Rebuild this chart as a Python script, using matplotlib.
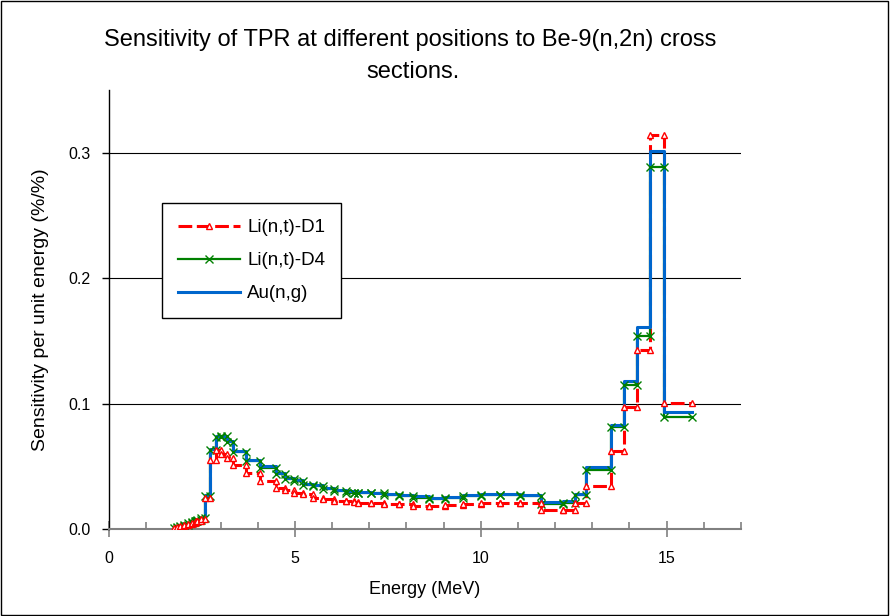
#/usr/bin/python3

import numpy as np
import matplotlib
matplotlib.use("Agg")
import matplotlib.pyplot as plt
from matplotlib.lines import Line2D
from matplotlib.patches import Rectangle

plt.rcParams['font.family'] = ['Liberation Sans', 'DejaVu Sans']

# group boundaries (MeV), low edge of each group plus the last upper edge
edges = [1.7377, 1.8268, 1.9205, 2.0190, 2.1225, 2.2313, 2.3069, 2.3457,
         2.3653, 2.4660, 2.5924, 2.7253, 2.8651, 3.0119, 3.1664, 3.3287,
         3.6788, 4.0657, 4.4933, 4.7237, 4.9659, 5.2205, 5.4881, 5.7695,
         6.0653, 6.3763, 6.5924, 6.7032, 7.0469, 7.4082, 7.7880, 8.1873,
         8.6071, 9.0484, 9.5123, 10.000, 10.513, 11.052, 11.618, 12.214,
         12.523, 12.840, 13.499, 13.840, 14.191, 14.550, 14.918, 15.683]

li_d1 = [0.0004, 0.0013, 0.0022, 0.0032, 0.0042, 0.0050, 0.0055, 0.0060,
         0.0065, 0.0080, 0.025, 0.055, 0.063, 0.060, 0.057, 0.051,
         0.045, 0.038, 0.033, 0.031, 0.029, 0.028, 0.025, 0.024,
         0.0225, 0.022, 0.0217, 0.021, 0.0208, 0.020, 0.020, 0.0184,
         0.0184, 0.019, 0.020, 0.021, 0.021, 0.021, 0.015, 0.015,
         0.021, 0.034, 0.062, 0.097, 0.143, 0.314, 0.1006]

li_d4 = [0.0005, 0.0015, 0.0025, 0.0035, 0.0045, 0.0055, 0.0060, 0.0065,
         0.0070, 0.0088, 0.026, 0.063, 0.0735, 0.074, 0.069, 0.061,
         0.054, 0.049, 0.044, 0.040, 0.038, 0.035, 0.034, 0.032,
         0.030, 0.029, 0.029, 0.0288, 0.0285, 0.027, 0.026, 0.025,
         0.024, 0.0245, 0.026, 0.027, 0.027, 0.026, 0.020, 0.021,
         0.027, 0.047, 0.081, 0.115, 0.154, 0.289, 0.0896]

au_ng = [0.0005, 0.0015, 0.0025, 0.0036, 0.0046, 0.0056, 0.0061, 0.0066,
         0.0072, 0.0090, 0.027, 0.064, 0.074, 0.0745, 0.070, 0.062,
         0.055, 0.050, 0.045, 0.041, 0.039, 0.036, 0.035, 0.033,
         0.031, 0.030, 0.030, 0.0295, 0.029, 0.028, 0.027, 0.026,
         0.025, 0.0255, 0.027, 0.028, 0.028, 0.027, 0.0215, 0.022,
         0.028, 0.0496, 0.083, 0.118, 0.161, 0.301, 0.093]

labels = ["Li(n,t)-D1", "Li(n,t)-D4", "Au(n,g)"]


def steps(vals):
    e = np.array(edges)
    x = np.column_stack([e[:-1], e[1:]]).ravel()
    y = np.repeat(np.array(vals), 2)
    return x, y


fig = plt.figure(figsize=(8.91, 6.16), dpi=100)
ax = fig.add_axes([109/891, 1-529/616, (741-109)/891, (529-90)/616])

red, green, blue = '#FF0000', '#008000', '#0066CC'

x1, y1 = steps(li_d1)
x4, y4 = steps(li_d4)
xa, ya = steps(au_ng)

ax.plot(x1, y1, color=red, lw=2.2, dashes=(4.5, 1.5), zorder=2)
ax.plot(x4, y4, color=green, lw=1.6, zorder=3)
ax.plot(xa, ya, color=blue, lw=2.2, zorder=4)
ax.plot(x1, y1, ls='none', marker='^', ms=4.5, mfc='white', mec=red, mew=1.0, zorder=6)
ax.plot(x4, y4, ls='none', marker='x', ms=6, mec=green, mew=1.0, zorder=5)

ax.set_xlim(0, 17)
ax.set_ylim(0, 0.35)
ax.set_xticks([0, 5, 10, 15])
ax.set_xticks(np.arange(0, 18, 1), minor=True)
ax.set_yticks([0.0, 0.1, 0.2, 0.3])
ax.set_yticklabels(["0.0", "0.1", "0.2", "0.3"])
ax.set_xticklabels(["0", "5", "10", "15"])

ax.tick_params(axis='x', which='major', direction='inout', length=12, width=1.2,
               color='#808080', labelsize=11.5, pad=10)
ax.tick_params(axis='x', which='minor', direction='in', length=5, width=1.2, color='#808080')
ax.tick_params(axis='y', which='major', direction='out', length=5, width=1,
               labelsize=11.5, pad=8)

for y in [0.1, 0.2, 0.3]:
    ax.axhline(y, color='black', lw=0.8, zorder=1)

for s in ['top', 'right']:
    ax.spines[s].set_visible(False)
ax.spines['bottom'].set_color('#808080')
ax.spines['bottom'].set_linewidth(1.5)
ax.spines['left'].set_color('black')
ax.spines['left'].set_linewidth(1.0)

ax.set_xlabel("Energy (MeV)", fontsize=13, labelpad=11)
ax.set_ylabel("Sensitivity per unit energy (%/%)", fontsize=14, labelpad=14)

fig.text(410/891, 1-40/616, "Sensitivity of TPR at different positions to Be-9(n,2n) cross",
         ha='center', va='center', fontsize=17)
fig.text(413/891, 1-72/616, "sections.", ha='center', va='center', fontsize=17)

handles = [
    Line2D([], [], color=red, lw=2.2, dashes=(4.5, 1.5), marker='^', ms=4.5, mfc='white', mec=red),
    Line2D([], [], color=green, lw=1.6, marker='x', ms=6, mec=green),
    Line2D([], [], color=blue, lw=2.2),
]
leg = ax.legend(handles, labels, loc='upper left', bbox_to_anchor=(162/891, 1-203/616),
                bbox_transform=fig.transFigure, fontsize=13.5, frameon=True, fancybox=False,
                edgecolor='black', framealpha=1, borderaxespad=0, handlelength=3.3,
                labelspacing=0.85, borderpad=0.85, handletextpad=0.4)
leg.get_frame().set_linewidth(1.0)

fig.add_artist(Rectangle((0.001, 0.002), 0.996, 0.996, transform=fig.transFigure,
                         fill=False, edgecolor='black', lw=1.0))

fig.savefig("out.png", dpi=100)
